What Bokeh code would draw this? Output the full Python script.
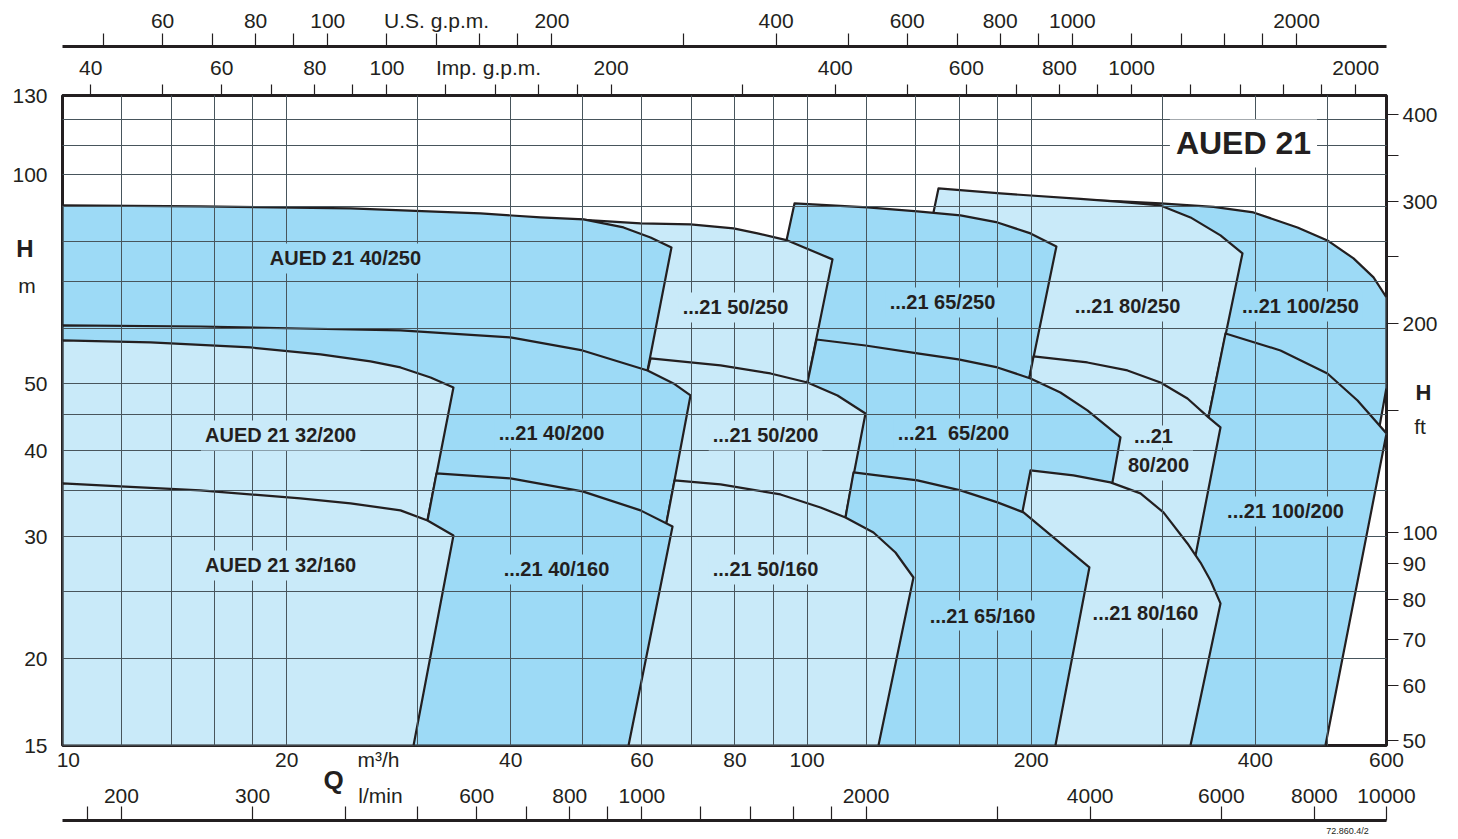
from bokeh.plotting import figure
from bokeh.models import Range1d, LogScale, LogAxis, LinearAxis, FixedTicker, Label
from bokeh.embed import file_html
from bokeh.resources import INLINE

FONT = "Liberation Sans"
INK = "#231f20"
LIGHT = "#c9eaf9"
MEDIUM = "#9ddaf6"
GRID = "#48555c"
NB = "\u00a0"

# ---------------- scales / unit conversions ----------------
Q_MIN, Q_MAX = 10, 600        # m3/h
H_MIN, H_MAX = 15, 130        # m
US_GPM = 4.40287              # US gpm per m3/h
IMP_GPM = 3.66614             # Imp gpm per m3/h
LMIN = 1000.0 / 60.0          # l/min per m3/h
FT = 3.28084                  # ft per m

# ---------------- tick values ----------------
q_labels = [10, 20, 40, 60, 80, 100, 200, 400, 600]
q_unit_pos = 26.57            # "m³/h" caption on the Q row
q_caption_pos = 23.12         # bold "Q"
q_grid = [12, 14, 16, 18, 20, 30, 40, 50, 60, 70, 80, 90, 100, 120, 140, 160, 180, 200, 300, 400, 500]
h_labels = [15, 20, 30, 40, 50, 100, 130]
h_caption_pos = 78.22         # bold "H" (left)
h_unit_pos = 69.17            # "m"
h_grid = [20, 25, 30, 35, 40, 45, 50, 60, 70, 80, 90, 100, 110, 120]
us_major = [60, 80, 100, 140, 200, 400, 600, 800, 1000, 2000]
us_minor = [50, 70, 90, 120, 160, 180, 300, 500, 700, 900, 1200, 1400, 1600, 1800]
imp_labels = [40, 60, 80, 100, 200, 400, 600, 800, 1000, 2000]
imp_unit_pos = 136.9          # "Imp. g.p.m." caption
imp_ticks = [40, 50, 60, 70, 80, 90, 100, 120, 140, 160, 180, 200, 300, 400, 500, 600, 700,
             800, 900, 1000, 1200, 1400, 1600, 1800, 2000]
lmin_major = [200, 300, 600, 800, 1000, 2000, 4000, 6000, 8000, 10000]
lmin_minor = [180, 400, 500, 700, 900, 1200, 1400, 1600, 1800, 3000]
lmin_unit_pos = 445.6         # "l/min" caption
code_pos = 8865               # drawing number
ft_major = [50, 60, 70, 80, 90, 100, 200, 300, 400]
ft_minor = [150, 250, 350]
ft_unit_pos = 142.0           # "ft"
hr_caption_pos = 48.47        # bold "H" (right), in m

# ---------------- pump curves (Q m3/h, H m) ----------------
# row 250
q_100_250 = [240.15, 263.54, 298.25, 351.39, 397.64, 455.60, 499.82, 541.84, 576.41, 600]
h_100_250 = [91.74, 91.43, 90.83, 89.78, 88.15, 83.87, 80.33, 75.67, 71.04, 66.46]
lq_100_250, lh_100_250 = [181.85], [15]
rq_100_250, rh_100_250 = [600, 587.20, 492.15], [49.28, 43.29, 15]

q_80_250 = [150.12, 181.85, 232.84, 263.54, 298.25, 327.26, 359.08, 384.34]
h_80_250 = [95.47, 93.90, 92.19, 91.28, 90.23, 86.70, 81.67, 76.93]
lq_80_250, lh_80_250 = [104.88, 147.82], [15, 88.15]
rq_80_250, rh_80_250 = [280.36], [15]

q_65_250 = [96.18, 120.53, 140.68, 160.69, 180.17, 199.55, 216.19]
h_65_250 = [90.83, 89.63, 88.45, 87.28, 85.27, 82.22, 78.74]
lq_65_250, lh_65_250 = [66.98, 93.83], [15, 80.33]
rq_65_250, rh_65_250 = [157.25], [15]

q_50_250 = [48.87, 59.74, 69.73, 79.65, 85.79, 94.12, 108.17]
h_50_250 = [86.13, 84.99, 84.71, 83.59, 82.22, 80.33, 75.42]
lq_50_250, lh_50_250 = [46.65], [15]
rq_50_250, rh_50_250 = [79.65], [15]

q_40_250 = [10, 15.32, 24.37, 36.42, 43.85, 50.09, 56.68, 61.62, 65.75]
h_40_250 = [90.23, 89.93, 89.33, 87.86, 86.70, 86.13, 83.87, 81.13, 78.48]
lq_40_250, lh_40_250 = [10], [15]
rq_40_250, rh_40_250 = [48.71], [15]

# row 200
q_100_200 = [364.68, 432.29, 499.82, 548.57, 600]
h_100_200 = [58.97, 55.73, 51.63, 47.20, 42.30]
lq_100_200, lh_100_200 = [280.36, 345.99], [15, 44.61]
rq_100_200, rh_100_200 = [496.74], [15]

q_80_200 = [201.41, 237.93, 269.31, 298.25, 324.24, 345.99, 359.08]
h_80_200 = [54.63, 53.55, 52.15, 50.11, 47.51, 44.61, 43.15]
lq_80_200, lh_80_200 = [157.25, 198.93], [15, 50.95]
rq_80_200, rh_80_200 = [296.41], [15]

q_65_200 = [102.95, 119.79, 140.68, 159.70, 180.17, 199.55, 218.88, 237.93, 263.54]
h_65_200 = [57.80, 56.66, 55.18, 54.09, 52.67, 50.78, 48.47, 45.66, 41.74]
lq_65_200, lh_65_200 = [79.65, 100.12], [15, 50.11]
rq_65_200, rh_65_200 = [222.29], [15]

q_50_200 = [61.62, 76.51, 89.30, 100.12, 109.86, 119.79]
h_50_200 = [54.27, 53.02, 51.63, 50.11, 47.99, 45.20]
lq_50_200, lh_50_200 = [48.71, 61.05], [15, 51.98]
rq_50_200, rh_50_200 = [98.29], [15]

q_40_200 = [10, 15.32, 20.87, 28.44, 39.96, 49.93, 61.05, 66.16, 69.73]
h_40_200 = [60.56, 60.35, 59.95, 59.56, 58.19, 55.73, 52.15, 49.94, 47.99]
lq_40_200, lh_40_200 = [10], [15]
rq_40_200, rh_40_200 = [56.86], [15]

q_32_200 = [10, 13.13, 17.88, 22.21, 25.92, 28.44, 31.21, 33.50]
h_32_200 = [57.61, 57.23, 56.29, 55.00, 53.73, 52.67, 50.95, 49.28]
lq_32_200, lh_32_200 = [10], [15]
rq_32_200, rh_32_200 = [26.98], [15]

# row 160
q_80_160 = [199.55, 227.85, 255.52, 280.36, 301.03, 324.24, 337.55, 348.14, 359.08]
h_80_160 = [37.41, 36.79, 35.95, 34.66, 32.54, 29.35, 27.55, 25.95, 24.05]
lq_80_160, lh_80_160 = [168.83, 194.67], [15, 32.65]
rq_80_160, rh_80_160 = [327.26], [15]

q_65_160 = [115.43, 140.68, 160.69, 180.17, 195.27, 214.20, 239.40]
h_65_160 = [37.16, 36.19, 35.01, 33.64, 32.54, 29.94, 27.10]
lq_65_160, lh_65_160 = [92.11, 112.61], [15, 32.00]
rq_65_160, rh_65_160 = [215.52], [15]

q_50_160 = [66.37, 76.51, 92.11, 104.23, 112.61, 122.79, 131.43, 138.95]
h_50_160 = [36.19, 35.71, 34.54, 33.08, 32.00, 30.44, 28.48, 26.21]
lq_50_160, lh_50_160 = [52.79, 64.74], [15, 31.47]
rq_50_160, rh_50_160 = [124.70], [15]

q_40_160 = [31.79, 39.96, 49.93, 59.74, 65.96]
h_40_160 = [37.04, 36.43, 34.89, 32.76, 31.05]
lq_40_160, lh_40_160 = [25.92, 30.92], [15, 31.68]
rq_40_160, rh_40_160 = [57.57], [15]

q_32_160 = [10, 11.96, 15.32, 20.87, 24.37, 28.44, 30.92, 33.50]
h_32_160 = [35.83, 35.47, 35.01, 34.09, 33.53, 32.76, 31.68, 30.14]
lq_32_160, lh_32_160 = [10], [15]
rq_32_160, rh_32_160 = [29.61], [15]

# drawing order (back to front)
regions = [
    (lq_100_250, lh_100_250, q_100_250, h_100_250, rq_100_250, rh_100_250, MEDIUM),
    (lq_80_250, lh_80_250, q_80_250, h_80_250, rq_80_250, rh_80_250, LIGHT),
    (lq_65_250, lh_65_250, q_65_250, h_65_250, rq_65_250, rh_65_250, MEDIUM),
    (lq_50_250, lh_50_250, q_50_250, h_50_250, rq_50_250, rh_50_250, LIGHT),
    (lq_40_250, lh_40_250, q_40_250, h_40_250, rq_40_250, rh_40_250, MEDIUM),
    (lq_100_200, lh_100_200, q_100_200, h_100_200, rq_100_200, rh_100_200, MEDIUM),
    (lq_80_200, lh_80_200, q_80_200, h_80_200, rq_80_200, rh_80_200, LIGHT),
    (lq_65_200, lh_65_200, q_65_200, h_65_200, rq_65_200, rh_65_200, MEDIUM),
    (lq_50_200, lh_50_200, q_50_200, h_50_200, rq_50_200, rh_50_200, LIGHT),
    (lq_40_200, lh_40_200, q_40_200, h_40_200, rq_40_200, rh_40_200, MEDIUM),
    (lq_32_200, lh_32_200, q_32_200, h_32_200, rq_32_200, rh_32_200, LIGHT),
    (lq_80_160, lh_80_160, q_80_160, h_80_160, rq_80_160, rh_80_160, LIGHT),
    (lq_65_160, lh_65_160, q_65_160, h_65_160, rq_65_160, rh_65_160, MEDIUM),
    (lq_50_160, lh_50_160, q_50_160, h_50_160, rq_50_160, rh_50_160, LIGHT),
    (lq_40_160, lh_40_160, q_40_160, h_40_160, rq_40_160, rh_40_160, MEDIUM),
    (lq_32_160, lh_32_160, q_32_160, h_32_160, rq_32_160, rh_32_160, LIGHT),
]

# region labels
lab_text = ["AUED 21 40/250", "...21 50/250", "...21 65/250", "...21 80/250", "...21 100/250",
            "AUED 21 32/200", "...21 40/200", "...21 50/200", "...21" + NB + NB + "65/200",
            "...21", "80/200", "...21 100/200", "AUED 21 32/160", "...21 40/160",
            "...21 50/160", "...21 65/160", "...21 80/160"]
lab_q = [23.99, 80.14, 151.99, 269.31, 459.8, 19.63, 45.36, 87.94, 157.25, 291.87, 296.41,
         439.04, 19.63, 46.07, 87.94, 171.99, 284.71]
lab_h = [75.67, 64.29, 65.37, 64.51, 64.51, 42.02, 42.30, 42.02, 42.30, 41.88, 38.04,
         32.65, 27.28, 26.92, 26.92, 23.10, 23.26]
lab_bg = [MEDIUM, LIGHT, MEDIUM, LIGHT, MEDIUM, LIGHT, MEDIUM, LIGHT, MEDIUM, LIGHT, LIGHT,
          MEDIUM, LIGHT, MEDIUM, LIGHT, MEDIUM, LIGHT]

# ---------------- figure ----------------
p = figure(width=1450, height=839, x_axis_type="log", y_axis_type="log",
           x_range=Range1d(Q_MIN, Q_MAX), y_range=Range1d(H_MIN, H_MAX),
           output_backend="svg", toolbar_location=None,
           min_border_left=62, min_border_right=64, min_border_top=95, min_border_bottom=94)
p.background_fill_color = "white"
p.border_fill_color = "white"
p.outline_line_color = INK
p.outline_line_width = 3

p.extra_x_ranges = {"us": Range1d(Q_MIN * US_GPM, Q_MAX * US_GPM),
                    "imp": Range1d(Q_MIN * IMP_GPM, Q_MAX * IMP_GPM),
                    "lmin": Range1d(Q_MIN * LMIN, Q_MAX * LMIN)}
p.extra_x_scales = {"us": LogScale(), "imp": LogScale(), "lmin": LogScale()}
p.extra_y_ranges = {"ft": Range1d(H_MIN * FT, H_MAX * FT)}
p.extra_y_scales = {"ft": LogScale()}


def style(ax, size="21px", bold=False):
    ax.major_label_text_font = FONT
    ax.major_label_text_font_size = size
    ax.major_label_text_font_style = "bold" if bold else "normal"
    ax.major_label_text_color = INK
    ax.major_tick_line_color = INK
    ax.minor_tick_line_color = INK
    ax.major_tick_line_width = 1.2
    ax.minor_tick_line_width = 1.2
    ax.axis_line_color = INK
    ax.axis_line_width = 3
    ax.major_tick_in = 0
    ax.minor_tick_in = 0
    ax.minor_tick_out = 0


def caption_axis(ticks, labels, size, bold, standoff, **kw):
    ax = LinearAxis(ticker=FixedTicker(ticks=ticks, minor_ticks=[]), **kw)
    style(ax, size, bold)
    ax.major_label_overrides = dict(zip(ticks, labels))
    ax.axis_line_color = None
    ax.major_tick_line_color = None
    ax.minor_tick_line_color = None
    ax.major_tick_out = 0
    ax.major_label_standoff = standoff
    return ax


def spacer(pos, size):
    # one invisible (white) tick outside the frame, used only to open a gap
    ax = LinearAxis(ticker=FixedTicker(ticks=[pos], minor_ticks=[]), major_tick_out=size,
                    major_tick_in=0, minor_tick_out=0, minor_tick_in=0, major_label_standoff=0,
                    axis_line_color=None, major_tick_line_color="white",
                    minor_tick_line_color=None, major_label_text_color=None)
    return ax


def overrides(ticks, special=None):
    d = {v: str(v) for v in ticks}
    if special:
        d.update(special)
    return d


# bottom m3/h axis (labels only)
ax_q = p.below[0]
style(ax_q)
ax_q.ticker = FixedTicker(ticks=q_labels + [q_unit_pos], minor_ticks=[])
ax_q.major_label_overrides = overrides(q_labels, {10: NB + NB + "10", q_unit_pos: "m\u00b3/h"})
ax_q.major_tick_out = 0
ax_q.axis_line_color = None
ax_q.major_label_standoff = 2

# left m axis (+ "m" caption)
ax_h = p.left[0]
style(ax_h)
ax_h.ticker = FixedTicker(ticks=h_labels + [h_unit_pos], minor_ticks=[])
ax_h.major_label_overrides = overrides(h_labels, {h_unit_pos: "m" + NB + NB})
ax_h.major_tick_out = 0
ax_h.axis_line_color = None
ax_h.major_label_standoff = 15
p.add_layout(caption_axis([h_caption_pos], ["H"], "24px", True, -24), "left")

# top: Imp gpm (nearest), spacer, US gpm
ax_imp = LogAxis(x_range_name="imp",
                 ticker=FixedTicker(ticks=imp_labels + [imp_unit_pos], minor_ticks=imp_ticks))
style(ax_imp)
ax_imp.major_label_overrides = overrides(imp_labels, {imp_unit_pos: "Imp. g.p.m."})
ax_imp.major_tick_line_color = None
ax_imp.major_tick_out = 11
ax_imp.minor_tick_out = 11
ax_imp.major_label_standoff = 6
p.add_layout(ax_imp, "above")
p.add_layout(spacer(71.9, 6), "above")
ax_us = LogAxis(x_range_name="us", ticker=FixedTicker(ticks=us_major, minor_ticks=us_minor))
style(ax_us)
ax_us.major_label_overrides = overrides(us_major, {140: "U.S. g.p.m."})
ax_us.major_tick_out = 13
ax_us.minor_tick_out = 13
ax_us.major_label_standoff = 2
p.add_layout(ax_us, "above")

# bottom: l/min labels, spacer, l/min line with inward ticks, drawing number, "Q"
ax_l1 = LogAxis(x_range_name="lmin",
                ticker=FixedTicker(ticks=lmin_major + [lmin_unit_pos], minor_ticks=[]))
style(ax_l1)
ax_l1.major_label_overrides = overrides(lmin_major, {lmin_unit_pos: "l/min"})
ax_l1.axis_line_color = None
ax_l1.major_tick_line_color = None
ax_l1.minor_tick_line_color = None
ax_l1.major_tick_out = 0
ax_l1.major_label_standoff = 10
p.add_layout(ax_l1, "below")
p.add_layout(spacer(263.5, 11), "below")
ax_l2 = LogAxis(x_range_name="lmin",
                ticker=FixedTicker(ticks=sorted(lmin_major + lmin_minor), minor_ticks=[]))
style(ax_l2)
ax_l2.major_label_text_color = None
ax_l2.major_tick_in = 14
ax_l2.major_tick_out = 0
ax_l2.major_label_standoff = 0
p.add_layout(ax_l2, "below")
ax_code = LogAxis(x_range_name="lmin", ticker=FixedTicker(ticks=[code_pos], minor_ticks=[]))
style(ax_code, "9px")
ax_code.major_label_overrides = {code_pos: "72.860.4/2"}
ax_code.axis_line_color = None
ax_code.major_tick_line_color = None
ax_code.minor_tick_line_color = None
ax_code.major_tick_out = 0
ax_code.major_label_standoff = 5
p.add_layout(ax_code, "below")
p.add_layout(caption_axis([q_caption_pos], ["Q"], "26px", True, -74), "below")

# right ft axis (+ "ft" caption); tick marks drawn as minor ticks
ax_ft = LogAxis(y_range_name="ft",
                ticker=FixedTicker(ticks=ft_major + [ft_unit_pos],
                                   minor_ticks=sorted(ft_major + ft_minor)))
style(ax_ft)
ax_ft.major_label_overrides = overrides(ft_major, {ft_unit_pos: NB + NB + "ft"})
ax_ft.major_tick_out = 0
ax_ft.major_tick_line_color = None
ax_ft.minor_tick_out = 12
ax_ft.axis_line_color = None
ax_ft.major_label_standoff = 4
p.add_layout(ax_ft, "right")
p.add_layout(caption_axis([hr_caption_pos], ["H"], "22px", True, -25), "right")

# grid over the coloured areas
p.xgrid.ticker = FixedTicker(ticks=q_grid)
p.ygrid.ticker = FixedTicker(ticks=h_grid)
p.grid.grid_line_color = GRID
p.grid.grid_line_width = 1
p.grid.level = "guide"

# pump areas
for lq, lh, q, h, rq, rh, col in regions:
    p.patch(lq + q + rq, lh + h + rh, fill_color=col, line_color=INK,
            line_width=2.2, line_join="round")

# region labels
for t, x, y, bg in zip(lab_text, lab_q, lab_h, lab_bg):
    p.add_layout(Label(x=x, y=y, text=t, text_font=FONT, text_font_size="20px",
                       text_font_style="bold", text_color=INK, text_align="center",
                       text_baseline="middle", background_fill_color=bg, padding=4))

# title
p.add_layout(Label(x=385.54, y=110.86, text="AUED 21", text_font=FONT, text_font_size="32px",
                   text_font_style="bold", text_color=INK, text_align="center",
                   text_baseline="middle", background_fill_color="white", padding=6))

open("out.html", "w").write(file_html(p, INLINE))
